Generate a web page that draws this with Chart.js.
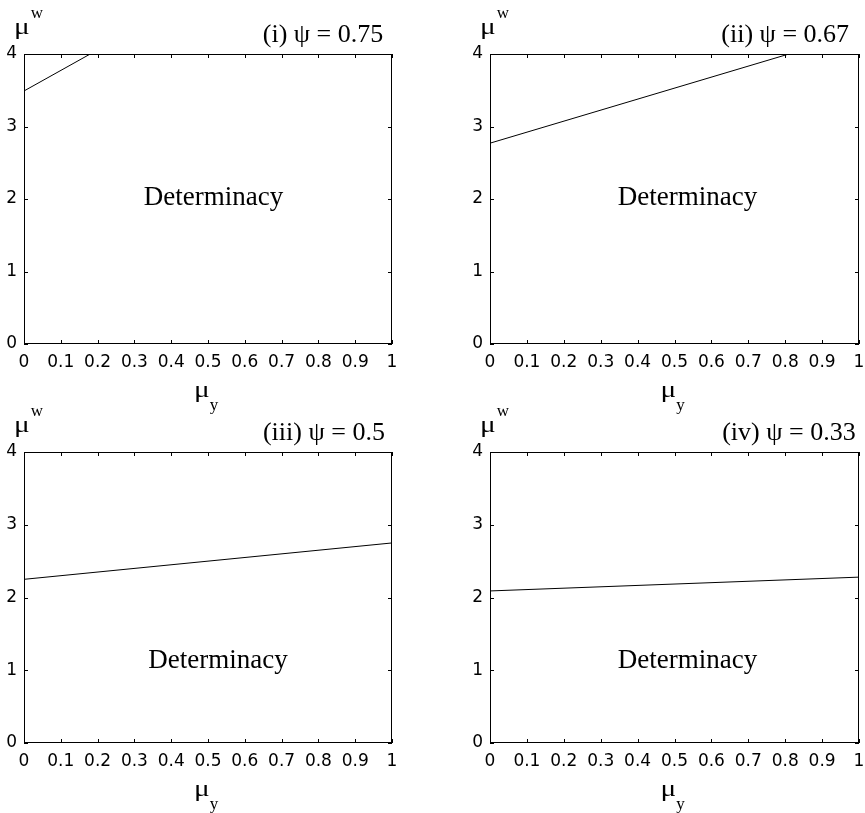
<!DOCTYPE html>
<html>
<head>
<meta charset="utf-8">
<script src="https://cdn.jsdelivr.net/npm/chart.js@4.4.1/dist/chart.umd.min.js"></script>
<style>
  body { margin: 0; background: #fff; }
  .wrap { position: relative; width: 865px; height: 813px; }
  .wrap canvas { position: absolute; left: 0; top: 0; }
</style>
</head>
<body>
<div class="wrap">
  <canvas id="c0" width="865" height="813"></canvas>
  <canvas id="c1" width="865" height="813"></canvas>
  <canvas id="c2" width="865" height="813"></canvas>
  <canvas id="c3" width="865" height="813"></canvas>
</div>
<script>
// data
const xTicks = [0, 0.1, 0.2, 0.3, 0.4, 0.5, 0.6, 0.7, 0.8, 0.9, 1];
const yTicks = [0, 1, 2, 3, 4];
const panelTitles = ["(i) \u03C8 = 0.75", "(ii) \u03C8 = 0.67", "(iii) \u03C8 = 0.5", "(iv) \u03C8 = 0.33"];
const boundaryX = [[0, 0.18], [0, 0.81], [0, 1], [0, 1]];
const boundaryY = [[3.49, 4], [2.77, 4], [2.25, 2.75], [2.09, 2.28]];
const regionLabel = "Determinacy";

// plot boxes in page pixels: left, top, right, bottom
const boxes = [
  { l: 24, t: 54, r: 392, b: 344 },
  { l: 490, t: 54, r: 859, b: 344 },
  { l: 24, t: 452, r: 392, b: 743 },
  { l: 490, t: 452, r: 859, b: 743 },
];
// text placement in data units
const titleAt = [0.8125, 0.80, 0.815, 0.81];
const labelAt = [
  { x: 0.515, y: 1.92 },
  { x: 0.535, y: 1.92 },
  { x: 0.527, y: 1.03 },
  { x: 0.535, y: 1.03 },
];

const Y_W = 40, X_H = 40, TICK = 4;
const serif = "'Liberation Serif', 'Times New Roman', serif";

// wide greek mu, like the original's symbol font
function drawMu(ctx, x, y) {
  ctx.save();
  ctx.font = "24px " + serif;
  ctx.translate(x, y);
  ctx.scale(1.22, 1);
  ctx.fillText("\u03BC", 0, 0);
  const w = ctx.measureText("\u03BC").width * 1.22;
  ctx.restore();
  return w;
}

const frame = {
  id: "frame",
  afterDraw(chart) {
    const i = chart.options.plugins.frame.index;
    const { ctx, chartArea: a, scales } = chart;
    const xs = scales.x, ys = scales.y;
    ctx.save();
    ctx.strokeStyle = "#000";
    ctx.lineWidth = 1;
    ctx.strokeRect(a.left + 0.5, a.top + 0.5, a.right - a.left - 1, a.bottom - a.top - 1);
    ctx.beginPath();
    xTicks.forEach(v => {
      const px = Math.round(xs.getPixelForValue(v)) + 0.5;
      ctx.moveTo(px, a.bottom); ctx.lineTo(px, a.bottom - TICK);
      ctx.moveTo(px, a.top); ctx.lineTo(px, a.top + TICK);
    });
    yTicks.forEach(v => {
      const py = Math.round(ys.getPixelForValue(v)) + 0.5;
      ctx.moveTo(a.left, py); ctx.lineTo(a.left + TICK, py);
      ctx.moveTo(a.right, py); ctx.lineTo(a.right - TICK, py);
    });
    ctx.stroke();

    ctx.fillStyle = "#000";
    ctx.textBaseline = "alphabetic";

    // panel title
    ctx.font = "26px " + serif;
    ctx.textAlign = "center";
    ctx.fillText(panelTitles[i], xs.getPixelForValue(titleAt[i]), a.top - 12);

    // region label
    ctx.font = "27px " + serif;
    ctx.fillText(regionLabel, xs.getPixelForValue(labelAt[i].x), ys.getPixelForValue(labelAt[i].y));

    // y axis label: mu^w
    ctx.textAlign = "left";
    const mx = a.left - 10;
    const mw = drawMu(ctx, mx, a.top - 20);
    ctx.font = "17px " + serif;
    ctx.fillText("w", mx + mw + 1, a.top - 36);

    // x axis label: mu_y
    const cx = (a.left + a.right) / 2 - 14;
    const mw2 = drawMu(ctx, cx, a.bottom + 53);
    ctx.font = "17px " + serif;
    ctx.fillText("y", cx + mw2, a.bottom + 66);
    ctx.restore();
  }
};

function tickFont() {
  return { family: "'DejaVu Sans', sans-serif", size: 17 };
}

boxes.forEach((box, i) => {
  const points = boundaryX[i].map((x, k) => ({ x: x, y: boundaryY[i][k] }));
  new Chart(document.getElementById("c" + i), {
    type: "line",
    data: {
      datasets: [{
        data: points,
        borderColor: "#000",
        borderWidth: 1,
        pointRadius: 0,
        tension: 0,
        fill: false,
      }],
    },
    options: {
      responsive: false,
      animation: false,
      events: [],
      layout: {
        padding: { left: box.l - Y_W, top: box.t, right: 865 - box.r, bottom: 813 - box.b - X_H },
      },
      plugins: {
        legend: { display: false },
        tooltip: { enabled: false },
        frame: { index: i },
      },
      scales: {
        x: {
          type: "linear",
          min: 0,
          max: 1,
          afterBuildTicks: s => { s.ticks = xTicks.map(v => ({ value: v })); },
          afterFit: s => { s.height = X_H; s.paddingLeft = 0; s.paddingRight = 0; },
          grid: { display: false, drawTicks: false },
          border: { display: false },
          ticks: {
            padding: 8, color: "#000", font: tickFont(), maxRotation: 0, autoSkip: false,
            callback: v => String(v),
          },
        },
        y: {
          type: "linear",
          min: 0,
          max: 4,
          afterBuildTicks: s => { s.ticks = yTicks.map(v => ({ value: v })); },
          afterFit: s => { s.width = Y_W; s.paddingTop = 0; s.paddingBottom = 0; },
          grid: { display: false, drawTicks: false },
          border: { display: false },
          ticks: { padding: 7, color: "#000", font: tickFont(), callback: v => String(v) },
        },
      },
    },
    plugins: [frame],
  });
});
</script>
</body>
</html>
